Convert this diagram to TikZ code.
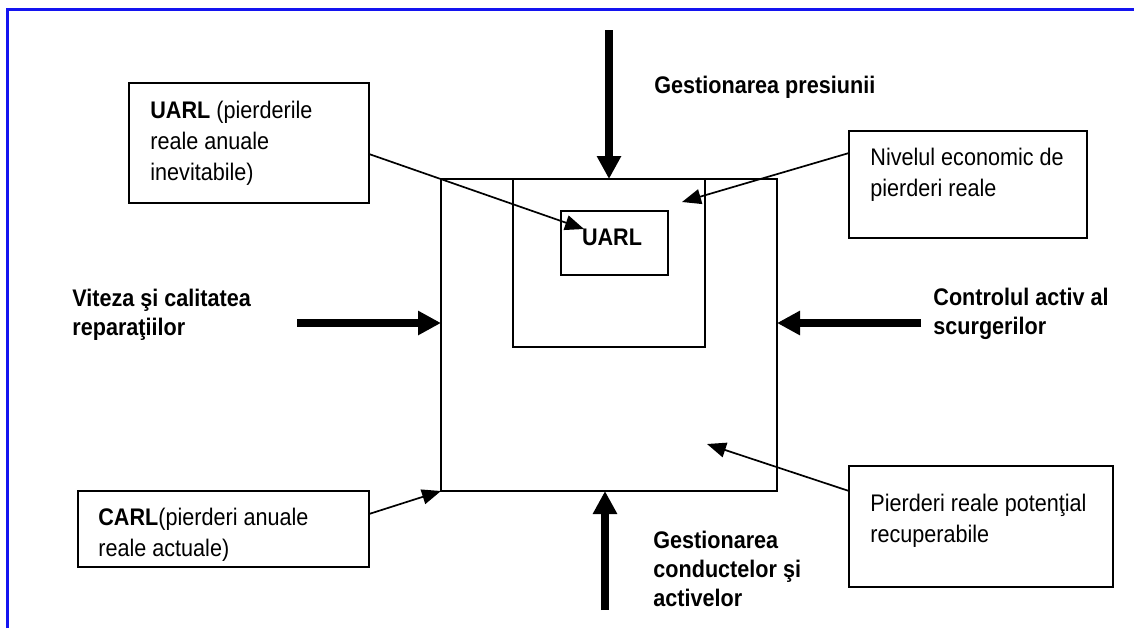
\documentclass[tikz,border=0pt]{standalone}
\usepackage{fontspec}
\setmainfont{Liberation Sans}[FakeStretch=0.9]
\usetikzlibrary{arrows.meta,calc}
\definecolor{frameblue}{RGB}{20,20,240}
\begin{document}
\begin{tikzpicture}[x=0.5pt,y=-0.5pt,
  box/.style={draw, line width=0.85pt, inner sep=0pt, outer sep=0pt, anchor=north west},
  boxtxt/.style={anchor=north west, inner sep=0pt, align=left, font=\fontsize{12}{15.5}\selectfont},
  lbl/.style={anchor=north west, inner sep=0pt, align=left, font=\fontsize{12}{14.5}\selectfont\bfseries},
  ptr/.style={line width=0.85pt, -{Triangle[length=9.5pt,width=7.5pt]}},
  fat/.style={line width=4pt, -{Triangle[length=11.5pt,width=11.5pt]}}]
\useasboundingbox (0,0) rectangle (1134,628);
% blue frame
\draw[frameblue, line width=1.1pt] (7.5,628) -- (7.5,9.5) -- (1134,9.5);
% central boxes
\node[box, minimum width=168pt, minimum height=156pt] (big) at (441,179) {};
\node[box, minimum width=96pt, minimum height=84pt] (inner) at (513,179) {};
\node[box, minimum width=53.5pt, minimum height=32pt] (small) at (561,211) {};
\node[anchor=center, inner sep=0pt, font=\fontsize{12}{14}\selectfont\bfseries] (uarltxt) at (612,237) {UARL};
% callout boxes
\node[box, minimum width=120pt, minimum height=60pt] (uarlbox) at (129,83) {};
\node[boxtxt] (uarllbl) at (150,100.6) {{\bfseries UARL} (pierderile\\reale anuale\\inevitabile)};
\node[box, minimum width=119pt, minimum height=53.5pt] (nivbox) at (849,131) {};
\node[boxtxt] (nivlbl) at (870,147.6) {Nivelul economic de\\pierderi reale};
\node[box, minimum width=145.5pt, minimum height=38pt] (carlbox) at (78,491) {};
\node[boxtxt] (carllbl) at (98,507.6) {{\bfseries CARL}(pierderi anuale\\reale actuale)};
\node[box, minimum width=132pt, minimum height=60.5pt] (pierbox) at (849,466) {};
\node[boxtxt] (pierlbl) at (870,493.6) {Pierderi reale potenţial\\recuperabile};
% bold labels
\node[lbl] (presiune) at (654,75.6) {Gestionarea presiunii};
\node[lbl] (viteza) at (72,288.6) {Viteza şi calitatea\\reparaţiilor};
\node[lbl] (control) at (933,287.6) {Controlul activ al\\scurgerilor};
\node[lbl] (conducte) at (653,530.6) {Gestionarea\\conductelor şi\\activelor};
% target / tail coordinates
\coordinate (t1) at (584,229);
\coordinate (t2) at (682,202);
\coordinate (t3) at (707,444);
\coordinate (ftop) at (609,30);
\coordinate (fleft) at (297,323);
\coordinate (fright) at (921,323);
\coordinate (fbot) at (605,610);
% thin connectors
\draw[ptr] ([yshift=-5.5pt]uarlbox.east) -- (t1);
\draw[ptr] ([yshift=15.75pt]nivbox.west) -- (t2);
\draw[ptr] ([yshift=7.5pt]carlbox.east) -- (big.south west);
\draw[ptr] ([yshift=17.75pt]pierbox.west) -- (t3);
% thick arrows
\draw[fat] (ftop) -- (big.north);
\draw[fat] (fleft) -- ([yshift=6pt]big.west);
\draw[fat] (fright) -- ([yshift=6pt]big.east);
\draw[fat] (fbot) -- ([xshift=-2pt]big.south);
\end{tikzpicture}
\end{document}
